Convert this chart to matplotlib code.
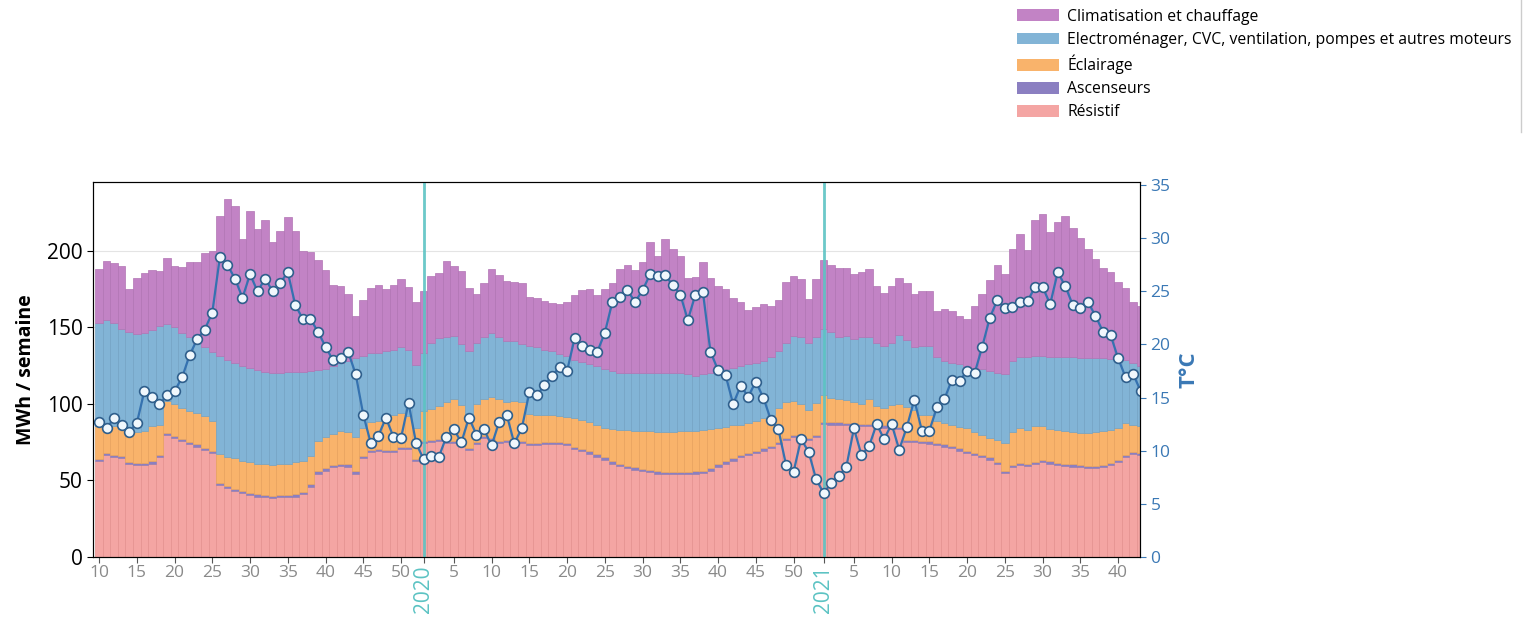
import numpy as np
import matplotlib.pyplot as plt
from matplotlib.lines import Line2D
from matplotlib.patches import Patch

plt.rcParams['font.family'] = ['Open Sans', 'DejaVu Sans']

## Semaines ISO couvertes
semaines_2019 = list(range(10, 53))
semaines_2020 = list(range(1, 54))
semaines_2021 = list(range(1, 44))

## Consommation par usage (MWh / semaine)
resistif_2019 = [62.5, 66.5, 65, 64.5, 60.5, 60, 60, 61, 65, 79.5, 77.5, 75.5, 73.5, 72, 70, 68,
                 47, 45, 43, 41.5, 40.5, 39.5, 39, 38.5, 39, 39, 39.5, 41, 46, 54.5, 56.5, 58.5,
                 59.5, 59, 54.5, 64.5, 68.5, 69, 68.5, 68.5, 70.5, 70.5, 62.5]
resistif_2020 = [74.5, 75, 75.8, 74.5, 74.5, 73, 70, 73.7, 77.5, 76.5,
                 74.5, 75, 75.5, 74.5, 73, 73.2, 73.5, 73.5, 73.5, 73,
                 70.5, 69, 67.5, 65.5, 63.5, 61, 59.5, 58, 57, 56,
                 55.5, 54.5, 54, 54, 54, 54, 54.5, 55, 56.5, 59,
                 61, 63, 65, 66.5, 68, 69.5, 71, 73.5, 76.5, 78.5,
                 78.5, 76.5, 78.5]
resistif_2021 = [87, 86.5, 86.5, 86, 86, 85.5, 85.5, 85, 84.5, 84.5,
                 83.5, 75, 75, 74.5, 74, 73, 72, 71, 69.5, 68,
                 66.5, 65, 63.5, 60.5, 54.7, 58.5, 60.2, 59.5, 60.5, 62,
                 61, 60, 59.5, 59.1, 58.7, 58, 58, 58.5, 60, 62,
                 65, 67, 66.5]

ascenseurs_2019 = [1.5, 1.5, 1.5, 1.5, 1.5, 1.5, 1.5, 1.5, 1.5, 1.5, 1.5, 1.5, 1.5, 1.5, 1.5,
                   1.5, 1.5, 1.5, 1.5, 1.5, 1.5, 1.5, 1.5, 1.5, 1.5, 1.5, 1.5, 1.5, 1.5, 1.5,
                   1.5, 1.5, 1.5, 1.5, 1.5, 1.5, 1.5, 1.5, 1.5, 1.5, 1.5, 1.5, 1.5]
ascenseurs_2020 = [1.5, 1.5, 1.5, 1.5, 1.5, 1.5, 1.5, 1.5, 1.5, 1.5, 1.5, 1.5, 1.5, 1.5, 1.5,
                   1.5, 1.5, 1.5, 1.5, 1.5, 1.5, 1.5, 1.5, 1.5, 1.5, 1.5, 1.5, 1.5, 1.5, 1.5,
                   1.5, 1.5, 1.5, 1.5, 1.5, 1.5, 1.5, 1.5, 1.5, 1.5, 1.5, 1.5, 1.5, 1.5, 1.5,
                   1.5, 1.5, 1.5, 1.5, 1.5, 1.5, 1.5, 1.5]
ascenseurs_2021 = [1.5, 1.5, 1.5, 1.5, 1.5, 1.5, 1.5, 1.5, 1.5, 1.5, 1.5, 1.5, 1.5, 1.5, 1.5,
                   1.5, 1.5, 1.5, 1.5, 1.5, 1.5, 1.5, 1.5, 1.5, 1.5, 1.5, 1.5, 1.5, 1.5, 1.5,
                   1.5, 1.5, 1.5, 1.5, 1.5, 1.5, 1.5, 1.5, 1.5, 1.5, 1.5, 1.5, 1.5]

eclairage_2019 = [21.5, 18.5, 19, 17.5, 19.5, 20, 21, 23, 20, 21, 21, 20.5, 20.5, 20.5, 20.5, 19.5,
                  18.5, 19, 20, 20, 20, 20, 20, 20, 20, 20.5, 21, 20.5, 18.5, 20, 20.5, 20.5,
                  21, 21, 22.5, 18, 18, 18.5, 21.5, 22.5, 22, 20, 20]
eclairage_2020 = [19.5, 20, 21.4, 25, 27, 25, 22, 24.8, 24, 26.5,
                  27, 24.5, 25, 25, 19, 18.3, 17.6, 17.5, 17, 17,
                  18.5, 19, 19, 19, 19.5, 21, 22, 23.5, 24, 25,
                  25, 25.7, 26.2, 26.2, 26.8, 26.8, 26.5, 26.5, 25.5, 24,
                  22.5, 21.5, 20, 19.5, 19.5, 19.5, 20, 22, 23, 22,
                  20, 18, 20.5]
eclairage_2021 = [17, 16, 15, 15, 13.5, 13, 16.5, 12, 11.5, 13,
                  15, 21.5, 19.5, 17, 17, 14.5, 14, 14, 14, 14.5,
                  13.5, 13, 12.5, 14.5, 18.3, 21.5, 22.8, 22, 23.5, 22,
                  21, 21.5, 21.5, 21.1, 21.1, 21.8, 22.2, 22.4, 21.5, 20.5,
                  21, 17.5, 17.5]

electro_2019 = [67.5, 68.5, 67.5, 65.5, 65.5, 64, 63.5, 63, 64.5, 50, 50, 48.5, 48, 46, 45, 45,
                64, 63, 62, 62, 61.5, 61, 60.5, 60, 60, 60, 59, 58, 55.5, 46, 44.5, 44.5,
                44.5, 46.5, 51.5, 47.5, 45, 44.5, 43, 42.5, 43, 43, 41.5]
electro_2020 = [37.5, 43.5, 44.3, 42.5, 41.5, 39.5, 41, 40, 40.5, 42,
                40.5, 40, 39, 38, 44.5, 44, 42.9, 42, 40.5, 40,
                38.5, 38, 38, 38.5, 38, 38, 37.5, 37.5, 38, 38,
                38.5, 38.8, 38.8, 38.8, 38.2, 37.2, 36, 36.5, 36.5, 37,
                37.5, 37.5, 38.5, 38.5, 38, 37.5, 38, 37.5, 39, 42.5,
                43.5, 44, 43]
electro_2021 = [43.5, 43, 40.5, 42, 41.5, 44, 40.5, 41.5, 40.5, 41,
                45, 44, 41, 45, 45.5, 41.5, 40.5, 40.5, 41, 40,
                42, 43, 44, 44, 45, 46.5, 46, 47.5, 46, 46,
                47, 47.5, 48, 48.8, 48.7, 48.7, 48.3, 47.6, 46.5, 45,
                41.5, 41, 39.5]

clim_2019 = [35, 38.5, 39, 41, 28, 37, 39.5, 39, 36, 43, 40, 43.5, 49.5, 53, 61.5, 66,
             92, 105.5, 103, 83, 102.5, 92, 99, 86, 92.5, 101, 92, 79, 77.5, 72, 64.5, 52.5,
             50.5, 43.5, 27.5, 36.5, 43, 44, 40.5, 42.5, 44.5, 41.5, 41]
clim_2020 = [41, 43.5, 42.5, 50, 45.5, 48, 41.5, 31.5, 35.5, 41.5,
             41, 39, 38.5, 40, 32, 32, 31.5, 31.5, 32.5, 35,
             42, 47, 49, 46.5, 52.5, 57.5, 67.5, 70, 67, 72,
             85, 76, 87, 81, 76, 63, 64.5, 73.5, 62.5, 55.5,
             52.5, 46, 41.5, 35.5, 36.5, 37, 33.5, 33.5, 39.5, 39,
             38, 28.5, 38]
clim_2021 = [45, 44, 45, 44, 42.5, 42, 44, 37, 34.5, 37,
             37, 37, 34.5, 36, 36, 30, 34, 34, 31.5, 31.5,
             40.5, 49, 59.5, 70, 65.5, 73, 80.5, 70, 88.5, 92.5,
             81.5, 88.5, 92.5, 84.5, 78.5, 71, 64.5, 59, 56.5, 50.5,
             47, 39.5, 39]

## Température moyenne hebdomadaire (°C)
temp_2019 = [12.7, 12.1, 13.1, 12.4, 11.8, 12.6, 15.6, 15.1, 14.4, 15.2, 15.6, 16.9, 19.0, 20.5,
             21.4, 23.0, 28.2, 27.5, 26.2, 24.4, 26.6, 25.0, 26.2, 25.0, 25.8, 26.8, 23.7, 22.4,
             22.4, 21.2, 19.8, 18.5, 18.7, 19.3, 17.2, 13.4, 10.7, 11.4, 13.1, 11.3, 11.2, 14.5, 10.7]
temp_2020 = [9.2, 9.5, 9.4, 11.3, 12.0, 10.8, 13.1, 11.5, 12.0, 10.5,
             12.7, 13.4, 10.7, 12.1, 15.5, 15.2, 16.2, 17.0, 17.9, 17.5,
             20.6, 19.9, 19.5, 19.3, 21.1, 24.0, 24.5, 25.1, 24.0, 25.1,
             26.6, 26.4, 26.5, 25.6, 24.7, 22.3, 24.7, 24.9, 19.3, 17.6,
             17.1, 14.4, 16.1, 15.1, 16.5, 15.0, 12.9, 12.0, 8.7, 8.0,
             11.1, 9.9, 7.3]
temp_2021 = [6.0, 7.0, 7.6, 8.5, 12.1, 9.6, 10.4, 12.5, 11.1, 12.5,
             10.1, 12.2, 14.8, 11.9, 11.9, 14.1, 14.9, 16.7, 16.6, 17.5,
             17.3, 19.8, 22.5, 24.2, 23.4, 23.5, 24.0, 24.1, 25.4, 25.4,
             23.8, 26.8, 25.5, 23.7, 23.4, 24.0, 22.7, 21.2, 20.9, 18.7,
             16.9, 17.2, 15.6]

## Assemblage
annees = [2019] * len(semaines_2019) + [2020] * len(semaines_2020) + [2021] * len(semaines_2021)
semaines = semaines_2019 + semaines_2020 + semaines_2021
resistif = np.array(resistif_2019 + resistif_2020 + resistif_2021)
ascenseurs = np.array(ascenseurs_2019 + ascenseurs_2020 + ascenseurs_2021)
eclairage = np.array(eclairage_2019 + eclairage_2020 + eclairage_2021)
electro = np.array(electro_2019 + electro_2020 + electro_2021)
clim = np.array(clim_2019 + clim_2020 + clim_2021)
temperature = np.array(temp_2019 + temp_2020 + temp_2021)
x = np.arange(len(semaines))

couleur_annee = '#5cc3c3'
couleur_temp = '#3a78b5'

fig = plt.figure(figsize=(15.3, 6.2), dpi=100)
ax1 = fig.add_axes([0.0608, 0.1016, 0.6843, 0.605])

couches = [
    ('Résistif', resistif, '#f4a5a3', '#e4918f'),
    ('Ascenseurs', ascenseurs, '#8b7fc1', '#9a80b0'),
    ('Éclairage', eclairage, '#f9b36b', '#e8a25c'),
    ('Electroménager, CVC, ventilation, pompes et autres moteurs', electro, '#82b4d6', '#73a3c4'),
    ('Climatisation et chauffage', clim, '#c283c5', '#b174b4'),
]
bas = np.zeros(len(x))
for nom, val, coul, bord in couches:
    ax1.bar(x, val, bottom=bas, width=1.0, color=coul, edgecolor=bord, linewidth=0.5)
    bas = bas + val

# lignes de changement d'année
for i, s in enumerate(semaines):
    if s == 1:
        ax1.axvline(i, color=couleur_annee, lw=2, alpha=0.9, zorder=3)

ax1.set_xlim(-0.8, 137.9)
ax1.set_ylim(0, 245)
ax1.set_yticks([0, 50, 100, 150, 200])
ax1.tick_params(axis='y', labelsize=15, length=4)
ax1.yaxis.grid(True, color='#e4e4e4', lw=0.8)
ax1.set_axisbelow(True)
ax1.set_ylabel('MWh / semaine', fontsize=14, fontweight='bold', labelpad=8)

pos_ticks, lab_ticks = [], []
for i, (an, s) in enumerate(zip(annees, semaines)):
    if s == 1:
        pos_ticks.append(i)
        lab_ticks.append(str(an))
    elif s % 5 == 0:
        pos_ticks.append(i)
        lab_ticks.append(str(s))
ax1.set_xticks(pos_ticks)
ax1.set_xticklabels(lab_ticks)
ax1.tick_params(axis='x', labelsize=12.5, labelcolor='#8a8a8a', color='#555555', length=4, pad=2)
for lab in ax1.get_xticklabels():
    if len(lab.get_text()) == 4:
        lab.set_rotation(90)
        lab.set_color(couleur_annee)
        lab.set_fontsize(15)

for sp in ax1.spines.values():
    sp.set_color('#222222')

ax2 = ax1.twinx()
ax2.plot(x, temperature, color='#3572b0', lw=1.6, marker='o', markersize=7,
         markerfacecolor='#f0f7fc', markeredgecolor='#2f5f8c', markeredgewidth=1.2)
ax2.set_ylim(0, 35.3)
ax2.set_yticks(range(0, 36, 5))
ax2.tick_params(axis='y', labelsize=12.5, labelcolor=couleur_temp, color=couleur_temp, length=4)
ax2.set_ylabel('T°C', color=couleur_temp, fontsize=16, fontweight='bold', labelpad=6)

handles = [Patch(facecolor=c[2], edgecolor='none') for c in couches[::-1]]
labels = [c[0] for c in couches[::-1]]
fig.legend(handles, labels, loc='upper left', bbox_to_anchor=(1017 / 1530, 0.986),
           frameon=False, fontsize=11.3, handlelength=2.7, handleheight=0.75,
           handletextpad=0.5, labelspacing=0.45, borderpad=0, borderaxespad=0)
fig.add_artist(Line2D([1521 / 1530] * 2, [1.0, 1 - 132 / 620], transform=fig.transFigure,
                      color='#cccccc', lw=1))

fig.savefig('out.png', dpi=100)
